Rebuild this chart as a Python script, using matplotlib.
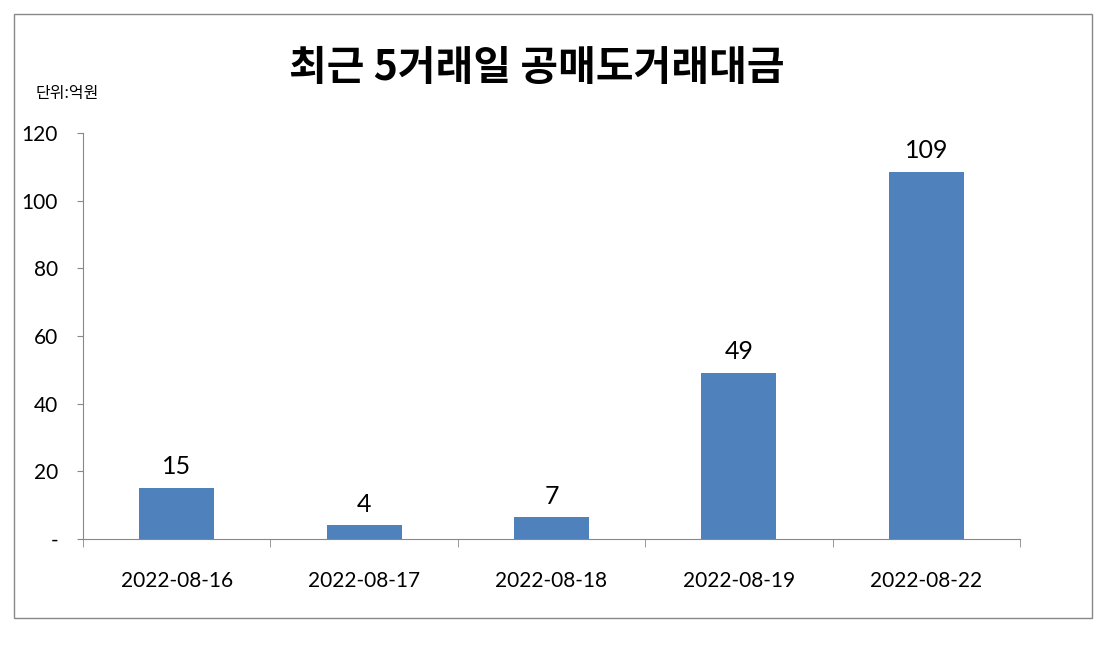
import matplotlib.pyplot as plt
from matplotlib.patches import Rectangle

# 데이터
dates = ["2022-08-16", "2022-08-17", "2022-08-18", "2022-08-19", "2022-08-22"]
values = [15.2, 4.0, 6.4, 49.1, 108.6]
labels = ["15", "4", "7", "49", "109"]

plt.rcParams['font.family'] = ['Noto Sans CJK KR', 'DejaVu Sans']

fig = plt.figure(figsize=(11.09, 6.47), dpi=100)
ax = fig.add_axes([0.0748, 0.1669, 0.8449, 0.6275])

x = range(len(dates))
bars = ax.bar(x, values, width=0.4, color='#4F81BD')

for b, lab in zip(bars, labels):
    ax.annotate(lab, (b.get_x() + b.get_width() / 2, b.get_height()),
                xytext=(0, 7), textcoords='offset points',
                ha='center', va='bottom', fontsize=18, family='Lato')

ax.set_xlim(-0.5, len(dates) - 0.5)
ax.set_ylim(0, 120)
ax.set_yticks(range(0, 121, 20))
ax.set_yticklabels(['-'] + [str(v) for v in range(20, 121, 20)], family='Lato', fontsize=15)
ax.set_xticks(list(x))
ax.set_xticklabels(dates, family='Lato', fontsize=15)
ax.set_xticks([i - 0.5 for i in range(len(dates) + 1)], minor=True)
ax.tick_params(axis='x', which='major', length=0, pad=23)
ax.tick_params(axis='x', which='minor', length=6, color='#888888', direction='out')
ax.tick_params(axis='y', length=4, color='#888888', pad=14)

for s in ['top', 'right']:
    ax.spines[s].set_visible(False)
for s in ['left', 'bottom']:
    ax.spines[s].set_color('#888888')

# 제목과 단위
fig.text(0.484, 0.895, "최근 5거래일 공매도거래대금", ha='center', va='center',
         fontsize=29.5, fontweight='black')
fig.text(0.032, 0.856, "단위:억원", ha='left', va='center', fontsize=11.5)

# 바깥 테두리
fig.patches.append(Rectangle((14 / 1109, 1 - 618 / 647), (1092 - 14) / 1109, (618 - 14) / 647,
                             transform=fig.transFigure, fill=False,
                             edgecolor='#888888', linewidth=1))

plt.savefig("out.png", dpi=100)
